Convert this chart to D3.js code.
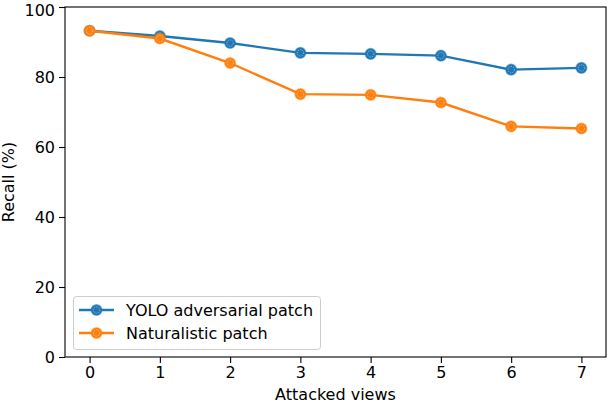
<!DOCTYPE html>
<html>
<head>
<meta charset="utf-8">
<script src="https://cdnjs.cloudflare.com/ajax/libs/d3/7.8.5/d3.min.js"></script>
<style>
  body { margin: 0; background: #fff; }
  text { font-family: "DejaVu Sans", sans-serif; fill: #000; }
</style>
</head>
<body>
<div id="chart"></div>
<script>
var views = [0, 1, 2, 3, 4, 5, 6, 7];
var yoloRecall = [93.2, 91.7, 89.7, 86.9, 86.6, 86.1, 82.1, 82.6];
var naturalRecall = [93.2, 91.0, 84.0, 75.1, 74.9, 72.7, 65.9, 65.3];
var seriesNames = ["YOLO adversarial patch", "Naturalistic patch"];
var seriesColors = ["#1f77b4", "#ff7f0e"];
var yTicks = [0, 20, 40, 60, 80, 100];

var width = 608, height = 404;
var margin = {top: 7, right: 2, bottom: 47, left: 65};
var fs = "16px";

var svg = d3.select("#chart").append("svg")
  .attr("width", width).attr("height", height);

var xScale = d3.scaleLinear().domain([-0.35, 7.35])
  .range([margin.left, width - margin.right]);
var yScale = d3.scaleLinear().domain([0, 100])
  .range([height - margin.bottom, margin.top]);

// axes
var xAxis = d3.axisBottom(xScale).tickValues(views).tickSize(6).tickPadding(4).tickFormat(d3.format("d"));
var yAxis = d3.axisLeft(yScale).tickValues(yTicks).tickSize(6).tickPadding(4);

var gx = svg.append("g")
  .attr("transform", "translate(0," + (height - margin.bottom) + ")")
  .call(xAxis);
var gy = svg.append("g")
  .attr("transform", "translate(" + margin.left + ",0)")
  .call(yAxis);
[gx, gy].forEach(function(g) {
  g.select(".domain").remove();
  g.selectAll("line").attr("stroke", "#000").attr("stroke-width", 1.1);
  g.selectAll("text").style("font-size", fs).attr("fill", "#000");
});
// keep the top label inside the picture
gy.selectAll("text").filter(function(d) { return d === 100; }).attr("dy", "0.5em");

// frame
svg.append("rect")
  .attr("x", margin.left).attr("y", margin.top)
  .attr("width", width - margin.left - margin.right)
  .attr("height", height - margin.top - margin.bottom)
  .attr("fill", "none").attr("stroke", "#000").attr("stroke-width", 1.1);

// labels
svg.append("text")
  .attr("x", xScale(3.5)).attr("y", 400)
  .attr("text-anchor", "middle").style("font-size", fs)
  .text("Attacked views");
svg.append("text")
  .attr("transform", "translate(14," + yScale(50) + ") rotate(-90)")
  .attr("text-anchor", "middle").style("font-size", fs)
  .text("Recall (%)");

var line = d3.line()
  .x(function(d, i) { return xScale(views[i]); })
  .y(function(d) { return yScale(d); });

function drawMarker(g, cx, cy, color) {
  g.append("circle").attr("cx", cx).attr("cy", cy).attr("r", 5.3)
    .attr("fill", color).attr("stroke", color).attr("stroke-opacity", 0.55).attr("stroke-width", 1.5);
  g.append("circle").attr("cx", cx).attr("cy", cy).attr("r", 3.2)
    .attr("fill", "none").attr("stroke", "#fff").attr("stroke-opacity", 0.6)
    .attr("stroke-width", 0.8).attr("stroke-dasharray", "1.2,1.2");
}

[yoloRecall, naturalRecall].forEach(function(vals, k) {
  var g = svg.append("g");
  g.append("path").attr("d", line(vals))
    .attr("fill", "none").attr("stroke", seriesColors[k]).attr("stroke-width", 2.4);
  vals.forEach(function(v, i) {
    drawMarker(g, xScale(views[i]), yScale(v), seriesColors[k]);
  });
});

// legend
var lg = svg.append("g");
lg.append("rect")
  .attr("x", 73.5).attr("y", 296.5).attr("width", 247).attr("height", 53).attr("rx", 3)
  .attr("fill", "#fff").attr("fill-opacity", 0.8).attr("stroke", "#ccc").attr("stroke-width", 1);
seriesNames.forEach(function(name, k) {
  var y = 310 + k * 23;
  lg.append("line").attr("x1", 79).attr("x2", 114).attr("y1", y).attr("y2", y)
    .attr("stroke", seriesColors[k]).attr("stroke-width", 2.4);
  drawMarker(lg, 96.5, y, seriesColors[k]);
  lg.append("text").attr("x", 126).attr("y", y + 6).style("font-size", fs).text(name);
});
</script>
</body>
</html>
